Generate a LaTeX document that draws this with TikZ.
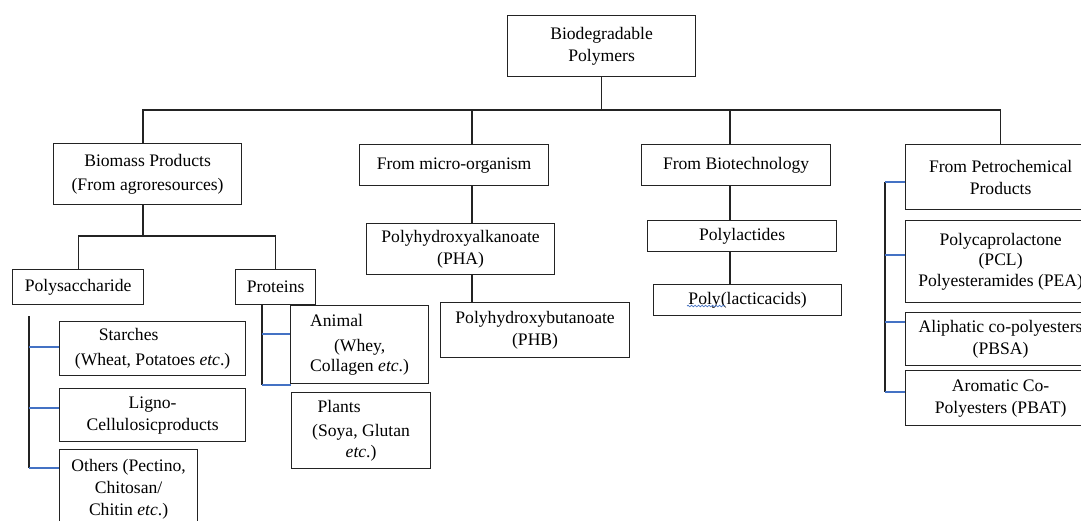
\documentclass[tikz,border=0pt]{standalone}
\usepackage{fontspec}
\setmainfont{Liberation Serif}
\usetikzlibrary{decorations.pathmorphing}
\definecolor{lnk}{RGB}{68,114,196}
\definecolor{edge}{RGB}{35,35,35}
\begin{document}
\begin{tikzpicture}[x=1pt,y=-1pt,
  box/.style={draw=edge, line width=1.2pt, rectangle, align=center, anchor=north west, inner sep=2pt, font=\fontsize{17.6}{22}\selectfont},
  tree/.style={draw=edge, line width=1.2pt},
  tick/.style={draw=lnk, line width=1.2pt}]
\useasboundingbox (0,0) rectangle (1081,520);
\clip (0,0) rectangle (1081,520);
\fill[white] (0,0) rectangle (1081,520);

% boxes
\node[box, minimum width=188, minimum height=61] (top) at (507,15) {Biodegradable\\Polymers};
\node[box, minimum width=188, minimum height=61] (bio) at (53,143) {Biomass Products\\[2pt](From agroresources)};
\node[box, minimum width=189, minimum height=41] (micro) at (359,144) {From micro-organism};
\node[box, minimum width=189, minimum height=41] (biot) at (641,144) {From Biotechnology};
\node[box, minimum width=190, minimum height=65] (petro) at (905,144) {From Petrochemical\\Products};
\node[box, minimum width=131, minimum height=35] (polys) at (12,269) {Polysaccharide};
\node[box, minimum width=80, minimum height=35] (prot) at (235,269) {Proteins};
\node[box, minimum width=186, minimum height=54] (starch) at (59,321) {Starches\hspace*{48pt}\\[3pt](Wheat, Potatoes \textit{etc}.)};
\node[box, minimum width=186, minimum height=53] (ligno) at (59,388) {Ligno-\\Cellulosicproducts};
\node[box, minimum width=138, minimum height=80] (others) at (59,449) {Others (Pectino,\\Chitosan/\\Chitin \textit{etc}.)};
\node[box, minimum width=138, minimum height=78] (animal) at (290,305) {Animal\hspace*{46pt}\\[3pt](Whey,\\[-2pt]Collagen \textit{etc}.)};
\node[box, minimum width=139, minimum height=76] (plants) at (291,392) {Plants\hspace*{44pt}\\[2pt](Soya, Glutan\\[-1pt]\textit{etc}.)};
\node[box, minimum width=188, minimum height=51] (pha) at (366,223) {Polyhydroxyalkanoate\\(PHA)};
\node[box, minimum width=189, minimum height=55] (phb) at (440,302) {Polyhydroxybutanoate\\(PHB)};
\node[box, minimum width=189, minimum height=31] (polylac) at (647,220) {Polylactides};
\node[box, minimum width=188, minimum height=31] (plla) at (653,284) {Poly(lacticacids)};
\node[box, minimum width=190, minimum height=82, font=\fontsize{17.6}{20.5}\selectfont] (pcl) at (905,220) {Polycaprolactone\\(PCL)\\Polyesteramides (PEA)};
\node[box, minimum width=190, minimum height=53] (aliph) at (905,312) {Aliphatic co-polyesters\\(PBSA)};
\node[box, minimum width=190, minimum height=55] (arom) at (905,370) {Aromatic Co-\\Polyesters (PBAT)};

% spell-check squiggle
\coordinate (sq1) at (687,306);
\coordinate (sq2) at (725,306);
\draw[lnk, line width=0.7pt, decorate, decoration={snake, amplitude=0.8pt, segment length=3.5pt}] (sq1) -- (sq2);

% main tree
\coordinate (hub) at (top.south |- 0,110);
\coordinate (lbar) at (143,110);
\coordinate (mdrop) at (472,110);
\coordinate (bdrop) at (730,110);
\draw[tree] (top.south) -- (hub);
\draw[tree] (lbar |- bio.north) |- (hub) -| (petro.north);
\draw[tree] (mdrop) -- (mdrop |- micro.north);
\draw[tree] (bdrop) -- (bdrop |- biot.north);

% biomass
\coordinate (bj) at (143,236);
\draw[tree] (bj |- bio.south) -- (bj);
\draw[tree] (polys.north) |- (bj) -| (prot.north);

% polysaccharide branch
\coordinate (p0) at (29,316);
\coordinate (p1) at (29,347);
\coordinate (p2) at (29,408);
\coordinate (p3) at (29,468);
\draw[tree] (p0) -- (p3);
\draw[tick] (p1) -- (p1 -| starch.west);
\draw[tick] (p2) -- (p2 -| ligno.west);
\draw[tick] (p3) -- (p3 -| others.west);

% proteins branch
\coordinate (q1) at (262,334);
\coordinate (q2) at (262,385);
\draw[tree] (q1 |- prot.south) -- (q2);
\draw[tick] (q1) -- (q1 -| animal.west);
\draw[tick] (q2) -- (q2 -| plants.west);

% micro-organism
\draw[tree] (micro.south -| mdrop) -- (pha.north -| mdrop);
\draw[tree] (pha.south -| mdrop) -- (phb.north -| mdrop);

% biotechnology
\draw[tree] (biot.south -| bdrop) -- (polylac.north -| bdrop);
\draw[tree] (polylac.south -| bdrop) -- (plla.north -| bdrop);

% petrochemical branch
\coordinate (r1) at (885,182);
\coordinate (r2) at (885,255);
\coordinate (r3) at (885,322);
\coordinate (r4) at (885,392);
\draw[tree] (r1) -- (r4);
\draw[tick] (r1) -- (r1 -| petro.west);
\draw[tick] (r2) -- (r2 -| pcl.west);
\draw[tick] (r3) -- (r3 -| aliph.west);
\draw[tick] (r4) -- (r4 -| arom.west);
\end{tikzpicture}
\end{document}
